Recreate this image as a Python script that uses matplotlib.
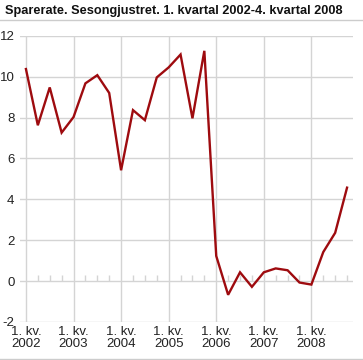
import matplotlib
matplotlib.use("Agg")
import matplotlib.pyplot as plt
import numpy as np

plt.rcParams['font.family'] = ['Liberation Sans', 'DejaVu Sans']

title = "Sparerate. Sesongjustret. 1. kvartal 2002-4. kvartal 2008"
years = ["2002", "2003", "2004", "2005", "2006", "2007", "2008"]
values = [10.37, 7.62, 9.47, 7.26,
          8.02, 9.67, 10.07, 9.2,
          5.42, 8.36, 7.87, 9.96,
          10.45, 11.08, 7.96, 11.26,
          1.23, -0.67, 0.43, -0.28,
          0.43, 0.62, 0.53, -0.07,
          -0.17, 1.42, 2.36, 4.57]
yticks = [-2, 0, 2, 4, 6, 8, 10, 12]

W, H = 363, 360
fig = plt.figure(figsize=(W / 100, H / 100), dpi=100)
ax = fig.add_axes([20 / W, 1 - 322 / H, 333 / W, (322 - 35.7) / H])

x = np.arange(len(values))
grid_c = "#d4d4d4"
for yt in yticks:
    ax.axhline(yt, color=grid_c, lw=1.0, zorder=1)
year_pos = x[::4]
for xp in year_pos:
    ax.axvline(xp, color=grid_c, lw=1.0, zorder=1)
quarter_pos = [q for q in x if q % 4 != 0]
ax.vlines(quarter_pos, 0, 0.3, color=grid_c, lw=1.0, zorder=1)

ax.plot(x, values, color="#9e0b0f", lw=1.7, zorder=3, solid_joinstyle='miter')

ax.set_xlim(-0.5, len(values) - 0.5)
ax.set_ylim(-2, 12)
for s in ax.spines.values():
    s.set_visible(False)
ax.set_yticks(yticks)
ax.set_yticklabels([str(v) for v in yticks], fontsize=9.5, color="#222222")
ax.set_xticks(year_pos)
ax.set_xticklabels(["1. kv.\n" + y for y in years], fontsize=9.5, color="#222222",
                   linespacing=1.0)
ax.tick_params(axis='both', length=0, pad=3)
ax.tick_params(axis='y', pad=4)

fig.text(5 / W, 1 - 11 / H, title, fontsize=9.2, fontweight='bold', va='center',
         ha='left', color="#111111")
fig.add_artist(plt.Line2D([0, 1], [1 - 19.5 / H, 1 - 19.5 / H], color="#cccccc", lw=1,
                          transform=fig.transFigure))
fig.add_artist(plt.Line2D([0, 1], [1 - 358.5 / H, 1 - 358.5 / H], color="#cccccc", lw=1,
                          transform=fig.transFigure))

fig.savefig("out.png", dpi=100)
